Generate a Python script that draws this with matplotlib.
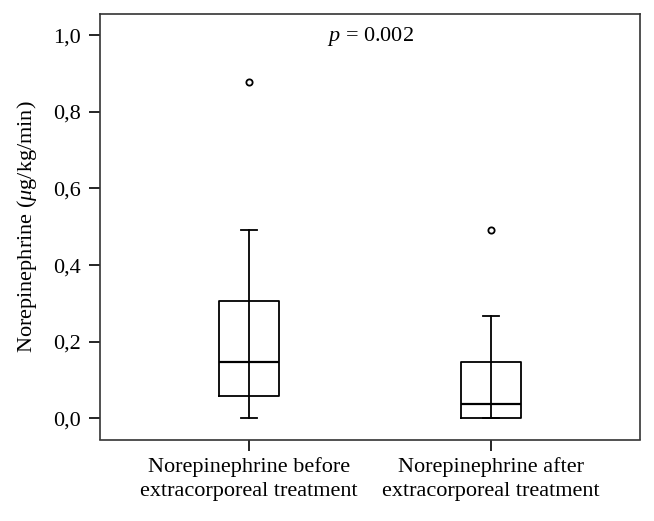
import matplotlib
matplotlib.use("Agg")
import matplotlib.pyplot as plt

plt.rcParams['font.family'] = ['Liberation Serif', 'DejaVu Serif']
plt.rcParams['mathtext.fontset'] = 'custom'
plt.rcParams['mathtext.rm'] = 'Liberation Serif'
plt.rcParams['mathtext.it'] = 'Liberation Serif:italic'

labels = ["Norepinephrine before\nextracorporeal treatment",
          "Norepinephrine after\nextracorporeal treatment"]
whislo = [0.0, 0.0]
q1 = [0.059, 0.0]
med = [0.146, 0.037]
q3 = [0.307, 0.148]
whishi = [0.491, 0.267]
fliers = [[0.877], [0.491]]
yticks = [0.0, 0.2, 0.4, 0.6, 0.8, 1.0]
ytick_labels = ["0,0", "0,2", "0,4", "0,6", "0,8", "1,0"]
positions = [1, 2]

stats = []
for i in range(len(labels)):
    stats.append({"whislo": whislo[i], "q1": q1[i], "med": med[i], "q3": q3[i],
                  "whishi": whishi[i], "fliers": fliers[i], "label": labels[i]})

fig = plt.figure(figsize=(6.54, 5.21), dpi=100)
ax = fig.add_axes([100 / 654, 1 - 439.5 / 521, 540 / 654, 425.5 / 521])

line = dict(color="black", linewidth=1.3)
ax.bxp(stats, positions=positions, widths=0.25, showfliers=True,
       boxprops=line, whiskerprops=line, capprops=line,
       medianprops=dict(color="black", linewidth=1.6),
       flierprops=dict(marker="o", markersize=4.5, markerfacecolor="white",
                       markeredgecolor="black", markeredgewidth=1.3),
       capwidths=0.065)
# whisker line runs through the box in the original
ax.vlines(positions, q1, q3, color="black", linewidth=1.3)

ax.set_xlim(0.384, 2.616)
ax.set_ylim(-0.055, 1.055)
ax.set_yticks(yticks)
ax.set_yticklabels(ytick_labels)
ax.tick_params(direction="out", length=8, width=1.2, labelsize=16, pad=6)
ax.tick_params(axis="x", labelsize=16, pad=5)
for lbl in ax.get_xticklabels():
    lbl.set_linespacing(1.35)
for s in ax.spines.values():
    s.set_linewidth(1.2)
    s.set_color("#333333")

ax.set_ylabel("Norepinephrine ($\\mu$g/kg/min)", fontsize=16, labelpad=10)
ax.text(1.5, 0.995, "$p$ = 0.002", ha="center", va="center", fontsize=16)

fig.savefig("out.png", dpi=100)
